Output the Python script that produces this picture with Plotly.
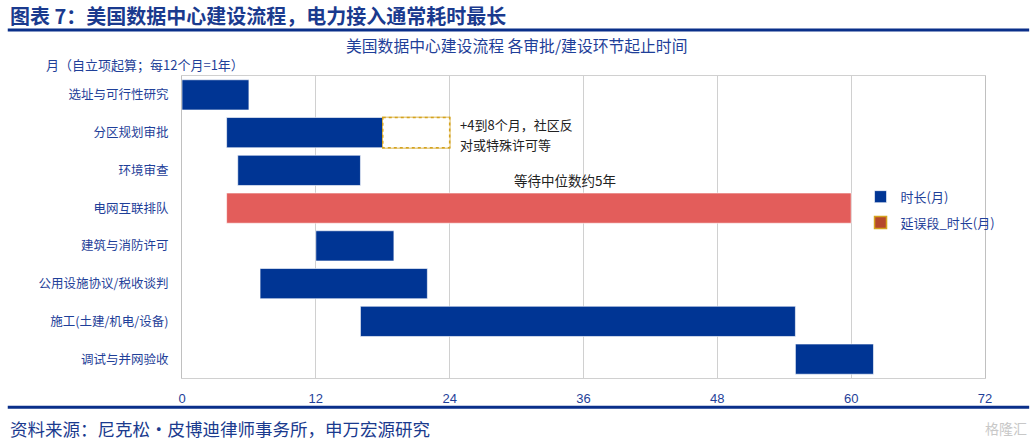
import plotly.graph_objects as go

# ---- data ----
stages = ["选址与可行性研究", "分区规划审批", "环境审查", "电网互联排队",
          "建筑与消防许可", "公用设施协议/税收谈判", "施工(土建/机电/设备)", "调试与并网验收"]
start_month = [0, 4, 5, 4, 12, 7, 16, 55]
duration = [6, 14, 11, 56, 7, 15, 39, 7]
delay_stage = ["分区规划审批"]
delay_start = [18]
delay_duration = [6]
x_ticks = [0, 12, 24, 36, 48, 60, 72]

BLUE = "#003594"
RED = "#E35D5B"
TXT = "#1F3F99"
NAVY = "#0A2F8A"
GOLD = "#D4A21F"
FONT = "Noto Sans CJK SC"

bar_colors = [RED if s == "电网互联排队" else BLUE for s in stages]

fig = go.Figure()
fig.add_trace(go.Bar(
    y=stages, x=duration, base=start_month, orientation="h",
    name="时长(月)", width=0.8,
    marker=dict(color=bar_colors, line=dict(color="rgba(255,255,255,0.6)", width=1)),
    legendgroup="a", hoverinfo="skip"))
fig.add_trace(go.Bar(
    y=delay_stage, x=delay_duration, base=delay_start, orientation="h",
    name="延误段_时长(月)", width=0.8,
    marker=dict(color="#B5472C", line=dict(color=GOLD, width=1.5)),
    legendgroup="b", hoverinfo="skip"))

# dashed outline of the delay segment (drawn over the delay bar)
for st, s0, d in zip(delay_stage, delay_start, delay_duration):
    idx = stages.index(st)
    fig.add_shape(type="rect", xref="x", yref="y", layer="above",
                  x0=s0, x1=s0 + d, y0=idx - 0.4, y1=idx + 0.4,
                  fillcolor="white", line=dict(color=GOLD, width=1.5, dash="dot"))

fig.update_layout(
    width=1035, height=444,
    margin=dict(l=182, r=50, t=76, b=66),
    paper_bgcolor="white", plot_bgcolor="white",
    font=dict(family=FONT, size=12, color=TXT),
    barmode="overlay",
    showlegend=True,
    legend=dict(x=0.845, y=0.65, xanchor="left", yanchor="top",
                font=dict(family=FONT, size=13, color=TXT),
                tracegroupgap=6, itemwidth=30, bgcolor="rgba(0,0,0,0)"),
    xaxis=dict(range=[0, 72], tickvals=x_ticks, showgrid=True, gridcolor="#D0D0D0",
               gridwidth=1, zeroline=False, showline=True, linecolor="#D0D0D0",
               mirror=True, ticks="", ticklabelstandoff=8,
               tickfont=dict(family="Liberation Sans Narrow, Liberation Sans", size=13, color=TXT)),
    yaxis=dict(categoryorder="array", categoryarray=stages, autorange="reversed",
               showgrid=False, showline=True, linecolor="#C0C0C0", mirror=True,
               ticks="", ticklabelstandoff=10,
               tickfont=dict(family=FONT, size=12.5, color=TXT)),
)

# header / footer
fig.add_annotation(xref="paper", yref="paper", x=-0.217, y=1.2, xanchor="left", yanchor="middle",
                   text="<b>图表 7：美国数据中心建设流程，电力接入通常耗时最长</b>",
                   showarrow=False, font=dict(family=FONT, size=20, color="#1A3A8E"))
fig.add_shape(type="line", xref="paper", yref="paper", x0=-0.217, x1=1.055, y0=1.152, y1=1.152,
              line=dict(color=NAVY, width=3))
fig.add_annotation(xref="paper", yref="paper", x=0.417, y=1.1, xanchor="center", yanchor="middle",
                   text="美国数据中心建设流程 各审批/建设环节起止时间",
                   showarrow=False, font=dict(family=FONT, size=15.8, color=TXT))
fig.add_annotation(xref="paper", yref="paper", x=-0.172, y=1.039, xanchor="left", yanchor="middle",
                   text="月（自立项起算；每12个月=1年）",
                   showarrow=False, font=dict(family=FONT, size=13, color=TXT))
fig.add_shape(type="line", xref="paper", yref="paper", x0=-0.217, x1=1.055, y0=-0.097, y1=-0.097,
              line=dict(color=NAVY, width=3))
fig.add_annotation(xref="paper", yref="paper", x=-0.217, y=-0.166, xanchor="left", yanchor="middle",
                   text="资料来源：尼克松·皮博迪律师事务所，申万宏源研究",
                   showarrow=False, font=dict(family=FONT, size=17.5, color="#1A3A8E"))
fig.add_annotation(xref="paper", yref="paper", x=1.055, y=-0.166, xanchor="right", yanchor="middle",
                   text="格隆汇", showarrow=False, font=dict(family=FONT, size=14, color="#C8C8C8"))

# in-chart notes
fig.add_annotation(xref="paper", yref="paper", x=0.344, y=0.84, xanchor="left", yanchor="middle",
                   text="+4到8个月，社区反", showarrow=False,
                   font=dict(family=FONT, size=13, color="#222222"))
fig.add_annotation(xref="paper", yref="paper", x=0.344, y=0.774, xanchor="left", yanchor="middle",
                   text="对或特殊许可等", showarrow=False,
                   font=dict(family=FONT, size=13, color="#222222"))
fig.add_annotation(xref="paper", yref="paper", x=0.477, y=0.656, xanchor="center", yanchor="middle",
                   text="等待中位数约5年", showarrow=False,
                   font=dict(family=FONT, size=13.5, color="#222222"))

fig.write_html("out.html", config={"displayModeBar": False},
               post_script="document.body.style.margin='0';")
